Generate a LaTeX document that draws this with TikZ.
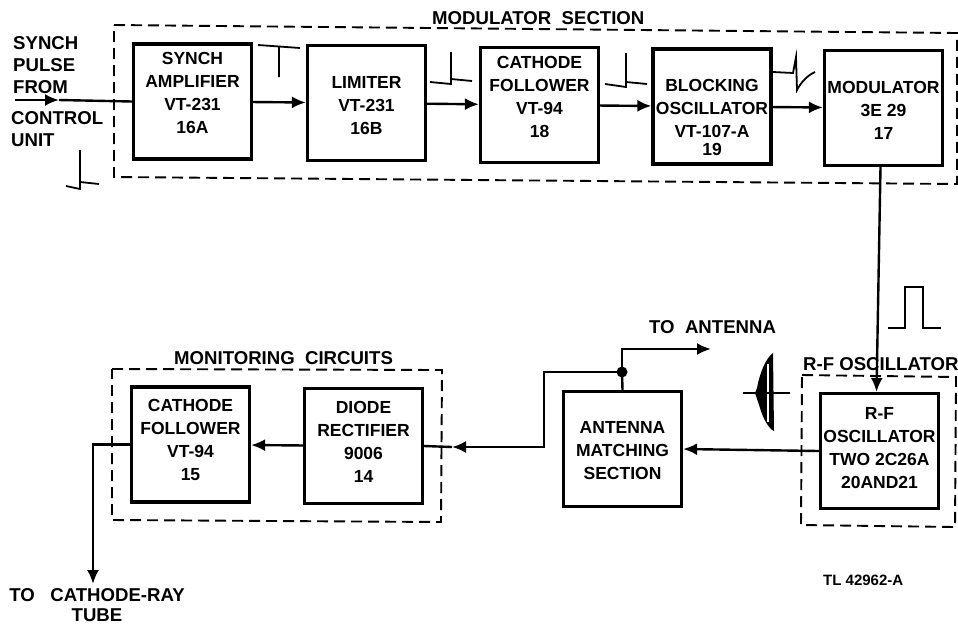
\documentclass[tikz,border=0pt]{standalone}
\usepackage{fontspec}
\setmainfont{Liberation Sans}
\usetikzlibrary{arrows.meta,positioning}
\newcommand{\boxlines}[2]{\raisebox{#1pt}[0pt][0pt]{\begin{tabular}{@{}c@{}}#2\end{tabular}}}

\begin{document}
\begin{tikzpicture}[x=1pt,y=-1pt,>={Latex[length=14pt,width=12pt]},line width=2.4pt,
 unitbox/.style={draw,line width=3.2pt,minimum width=118pt,minimum height=115pt,inner sep=0pt,font=\bfseries\fontsize{17.5}{23}\selectfont},
 sectionline/.style={dashed,line width=1.9pt,dash pattern=on 11pt off 6pt},
 caption/.style={font=\bfseries\fontsize{18.6}{22}\selectfont,inner sep=0pt,align=left},
 wave/.style={line width=1.8pt}]
 \useasboundingbox (0,0) rectangle (958,625);
 \draw[sectionline] (114,25)--(957,33)--(957,184)--(114,177)--cycle;
 \draw[sectionline] (112,369)--(442,370)--(441,522)--(112,520)--cycle;
 \draw[sectionline] (802,375)--(956,377)--(955,527)--(801,525)--cycle;
 \node[unitbox] (sa) at (192.5,101.5) {\boxlines{3}{SYNCH\\AMPLIFIER\\VT-231\\16A}};
 \node[unitbox] (lim) at (366.5,103) {\boxlines{-8}{LIMITER\\VT-231\\16B}};
 \node[unitbox] (cf) at (539.5,105) {\boxlines{2}{CATHODE\\FOLLOWER\\VT-94\\18}};
 \node[unitbox] (bo) at (712,106.5) {\boxlines{-17}{BLOCKING\\OSCILLATOR\\VT-107-A\\[-5pt]19}};
 \node[unitbox] (mod) at (883.5,108) {\boxlines{-8}{MODULATOR\\3E 29\\17}};
 \node[unitbox] (rf) at (879.5,451) {\boxlines{-3}{R-F\\OSCILLATOR\\TWO 2C26A\\20AND21}};
 \node[unitbox] (ant) at (622.5,449) {\boxlines{-7}{ANTENNA\\MATCHING\\SECTION}};
 \node[unitbox] (di) at (363.5,446) {\boxlines{-2}{DIODE\\RECTIFIER\\9006\\14}};
 \node[unitbox] (cfm) at (190.5,444.5) {\boxlines{-1}{CATHODE\\FOLLOWER\\VT-94\\15}};
 \node[caption,anchor=west] (modlabel) at (431,18) {MODULATOR\ \ SECTION};
 \node[caption,anchor=west] (monlabel) at (173,358) {MONITORING\ \ CIRCUITS};
 \node[caption,anchor=west] (rflabel) at (802,364) {R-F OSCILLATOR};
 \node[caption,anchor=west] (antlabel) at (648,327) {TO\ \ ANTENNA};
 \node[caption,anchor=north west] (inlabel) at (12,35) {SYNCH\\PULSE\\FROM};
 \node[caption,anchor=north west] (ctrllabel) at (10,110) {CONTROL\\UNIT};
 \node[caption,anchor=north,align=center,font=\bfseries\fontsize{18.6}{20}\selectfont] (crtlabel) at (97,587) {TO\ \ \ CATHODE-RAY\\TUBE};
 \node[font=\bfseries\fontsize{15}{17}\selectfont,inner sep=0pt,anchor=west] (tl) at (822,580) {TL 42962-A};
 \coordinate (in) at (15,100);
 \coordinate (inmid) at (59,100);
 \coordinate (jn) at (622,372);
 \coordinate (antout) at (711,349);
 \coordinate (bend) at (544,372);
 \coordinate (dimid) at (452,447);
 \coordinate (crt) at (93,584);
 \draw[->] (in)--(inmid);\draw (inmid)--(sa.west);
 \draw[->] (sa)--(lim);\draw[->] (lim)--(cf);
 \draw[->] (cf)--(bo);\draw[->] (bo)--(mod);
 \draw[->] ([xshift=-3pt]mod.south)--([xshift=-3pt]rf.north);
 \draw[->] (rf.west)--(ant.east);
 \draw (ant.north)--(jn);
 \draw[->] (jn)--(622,349)--(antout);
 \fill (jn) circle (5.5pt);
 \draw[->] (jn)--(bend)--(544,447)--(dimid);
 \draw (dimid)--(di.east);
 \draw[->] (di)--(cfm);
 \draw[->] (cfm.west)-|(crt);
 \draw[wave] (66,186)--(80,189)--(80,150) (80,182)--(99,184);
 \draw[wave] (258,45)--(300,48) (279,47)--(279,77);
 \draw[wave] (430,82)--(451,84)--(451,52) (451,79)--(472,81);
 \draw[wave] (605,84)--(626,87)--(626,53) (626,82)--(647,84);
 \draw[wave] (773,72)--(793,73)--(796,57)--(797,90) .. controls (801,82) and (808,75) .. (815,72);
 \draw[wave] (888,328)--(905,328)--(905,287)--(923,287)--(923,328)--(941,328);
 \fill (773,353) .. controls (766,358) and (760,372) .. (757,388) -- (755,393) -- (760,408) .. controls (763,418) and (768,428) .. (774,431) -- cycle;
 \fill[white] (766.5,364) -- (768.5,364) -- (768.5,422) -- (766.5,422) -- cycle;
 \draw[wave] (743,393)--(790,393);
\end{tikzpicture}
\end{document}
